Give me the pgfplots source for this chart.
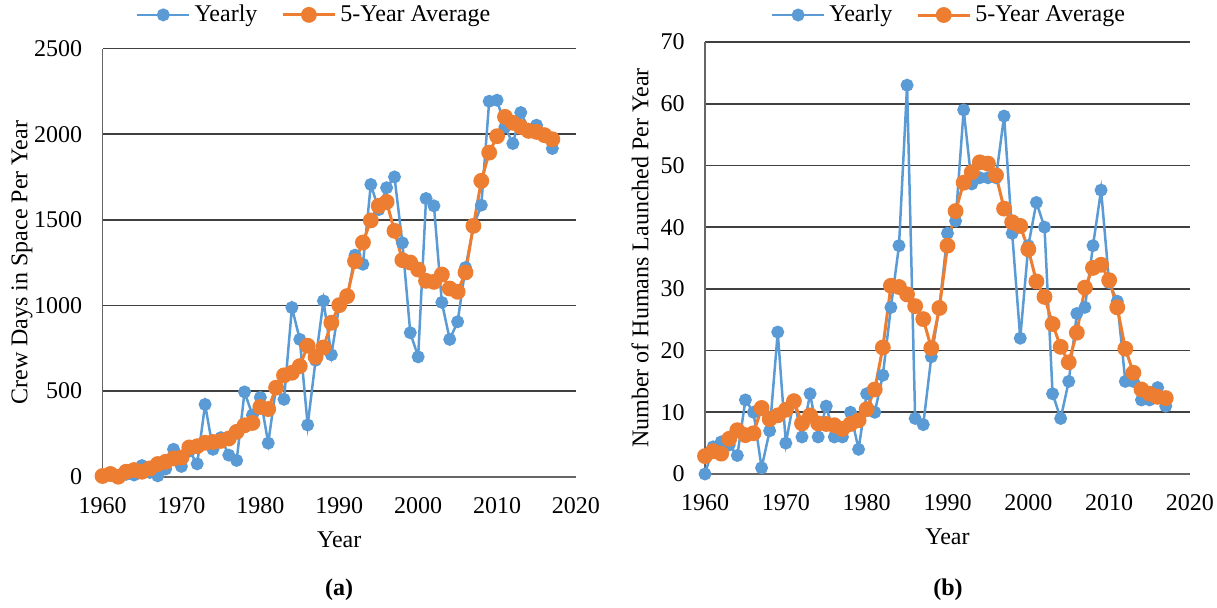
\documentclass[border=0pt]{standalone}
\usepackage{fontspec}
\setmainfont{Liberation Serif}
\usepackage{pgfplots}
\pgfplotsset{compat=1.18}
\definecolor{yrblue}{HTML}{5B9BD5}
\definecolor{avgorange}{HTML}{ED7D31}

\pgfplotstableread{
year days avg
1960 0 4
1961 8 16
1962 5 0
1963 14 29
1964 10 39
1965 65 29
1966 25 48
1967 5 74
1968 45 87
1969 160 107
1970 60 112
1971 150 171
1972 75 178
1973 422 198
1974 160 203
1975 228 209
1976 126 223
1977 95 262
1978 495 300
1979 360 314
1980 463 407
1981 196 395
1982 525 520
1983 452 592
1984 988 607
1985 802 646
1986 302 765
1987 680 700
1988 1027 755
1989 712 899
1990 1000 1002
1991 1045 1055
1992 1294 1259
1993 1241 1368
1994 1707 1497
1995 1560 1582
1996 1688 1605
1997 1751 1436
1998 1366 1265
1999 841 1251
2000 700 1210
2001 1625 1144
2002 1582 1138
2003 1018 1181
2004 802 1099
2005 905 1080
2006 1222 1193
2007 1460 1465
2008 1586 1728
2009 2193 1893
2010 2199 1989
2011 2043 2102
2012 1946 2067
2013 2127 2043
2014 2030 2020
2015 2053 2014
2016 1995 1995
2017 1917 1971
}\crewdays

\pgfplotstableread{
year n avg
1960 0 2.9
1961 4.4 3.7
1962 5.2 3.3
1963 4.7 5.7
1964 3 7.1
1965 12 6.3
1966 10 6.6
1967 1 10.7
1968 7 8.9
1969 23 9.5
1970 5 10.4
1971 12 11.8
1972 6 8.2
1973 13 9.5
1974 6 8.2
1975 11 8.1
1976 6 7.9
1977 6 7.3
1978 10 8.1
1979 4 8.7
1980 13 10.5
1981 10 13.7
1982 16 20.5
1983 27 30.5
1984 37 30.3
1985 63 29.1
1986 9 27.2
1987 8 25.1
1988 19 20.4
1989 27 26.9
1990 39 37
1991 41 42.6
1992 59 47.2
1993 47 48.9
1994 48 50.5
1995 48 50.3
1996 48 48.4
1997 58 43
1998 39 40.8
1999 22 40.2
2000 37 36.4
2001 44 31.2
2002 40 28.7
2003 13 24.3
2004 9 20.6
2005 15 18.1
2006 26 22.9
2007 27 30.2
2008 37 33.4
2009 46 33.9
2010 31 31.4
2011 28 27
2012 15 20.3
2013 15 16.4
2014 12 13.7
2015 12 13
2016 14 12.5
2017 11 12.3
}\launches

\pgfplotsset{
  panel/.style={
    scale only axis,
    anchor=south west,
    xmin=1960, xmax=2020,
    xtick={1960,1970,...,2020},
    ymin=0,
    axis x line=bottom, axis y line=left,
    axis line style={-, draw=black!60, line width=0.9pt},
    ymajorgrids, grid style={black!75, line width=0.8pt},
    major tick length=0pt,
    font=\fontsize{12}{14}\selectfont,
    ticklabel style={font=\fontsize{12}{14}\selectfont},
    /pgf/number format/1000 sep={},
    /pgf/number format/assume math mode=true,
    xticklabel style={inner sep=0pt, anchor=north, yshift=-10pt},
    yticklabel style={inner sep=0pt, anchor=east, xshift=-10pt},
    xlabel={Year},
    xlabel style={at={(axis description cs:0.5,0)}, anchor=center, yshift=-31.5pt},
    legend columns=2,
    legend style={draw=none, fill=none, font=\fontsize{12}{14}\selectfont,
      /tikz/every even column/.append style={column sep=10pt}},
    legend image code/.code={
      \draw[mark repeat=2, mark phase=2] plot coordinates {(0pt,0pt) (13pt,0pt) (26pt,0pt)};},
    yearly/.style={yrblue, line width=1.25pt, mark=*, mark size=2.6pt,
      mark options={solid, fill=yrblue, draw=yrblue}},
    fiveyr/.style={avgorange, line width=1.5pt, mark=*, mark size=3.2pt,
      mark options={solid, fill=avgorange, draw=avgorange}},
  }
}

\begin{document}
\begin{tikzpicture}
\useasboundingbox (0,0) rectangle (608.5pt,-304pt);

\begin{axis}[panel,
  at={(51.25pt,-238.35pt)}, width=236.75pt, height=214pt,
  ymax=2500, ytick={0,500,...,2500},
  ylabel={Crew Days in Space Per Year},
  ylabel style={at={(axis description cs:-0.170,0.5)}, anchor=center},
  legend style={at={(axis description cs:0.449,1.079)}, anchor=center},
]
\addplot[yearly] table[x=year, y=days] {\crewdays};
\addplot[fiveyr] table[x=year, y=avg] {\crewdays};
\legend{Yearly, 5-Year Average}
\end{axis}

\begin{axis}[panel,
  at={(352.5pt,-237pt)}, width=242.5pt, height=216pt,
  ymax=70, ytick={0,10,...,70},
  ylabel={Number of Humans Launched Per Year},
  ylabel style={at={(axis description cs:-0.134,0.5)}, anchor=center},
  legend style={at={(axis description cs:0.505,1.0625)}, anchor=center},
]
\addplot[yearly] table[x=year, y=n] {\launches};
\addplot[fiveyr] table[x=year, y=avg] {\launches};
\legend{Yearly, 5-Year Average}
\end{axis}

\node[font=\fontsize{12}{14}\selectfont\bfseries] at (169.5pt,-295pt) {(a)};
\node[font=\fontsize{12}{14}\selectfont\bfseries] at (474pt,-295pt) {(b)};
\end{tikzpicture}
\end{document}
